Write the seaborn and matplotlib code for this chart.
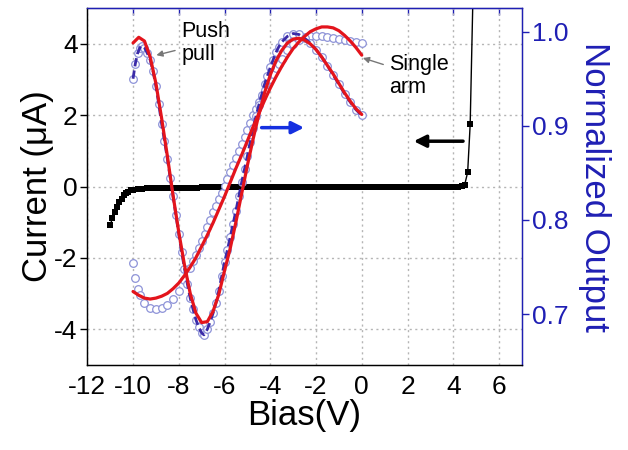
import numpy as np
import seaborn as sns
import matplotlib.pyplot as plt

# I-V curve (left axis, current in uA)
iv_bias = [-11.0, -10.9, -10.8, -10.7, -10.6, -10.5, -10.4, -10.3, -10.2, -10.1,
           -10.0, -9.8, -9.6, -9.4, -9.2,
           -9.0, -8.8, -8.6, -8.4, -8.2, -8.0, -7.8, -7.6, -7.4, -7.2,
           -7.0, -6.8, -6.6, -6.4, -6.2, -6.0, -5.8, -5.6, -5.4, -5.2,
           -5.0, -4.8, -4.6, -4.4, -4.2, -4.0, -3.8, -3.6, -3.4, -3.2,
           -3.0, -2.8, -2.6, -2.4, -2.2, -2.0, -1.8, -1.6, -1.4, -1.2,
           -1.0, -0.8, -0.6, -0.4, -0.2, 0.0, 0.2, 0.4, 0.6, 0.8,
           1.0, 1.2, 1.4, 1.6, 1.8, 2.0, 2.2, 2.4, 2.6, 2.8,
           3.0, 3.2, 3.4, 3.6, 3.8, 4.0, 4.2, 4.4, 4.5, 4.63, 4.74, 4.86]
iv_current = [-1.09, -0.88, -0.70, -0.56, -0.44, -0.34, -0.25, -0.19, -0.14, -0.11,
              -0.09, -0.07, -0.06, -0.05, -0.045,
              -0.04, -0.04, -0.04, -0.035, -0.035, -0.03, -0.03, -0.03, -0.03, -0.03,
              -0.025, -0.025, -0.025, -0.025, -0.025, -0.02, -0.02, -0.02, -0.02, -0.02,
              -0.02, -0.02, -0.02, -0.02, -0.02, -0.02, -0.015, -0.015, -0.015, -0.015,
              -0.015, -0.015, -0.015, -0.015, -0.01, -0.01, -0.01, -0.01, -0.01, -0.01,
              -0.01, -0.01, -0.01, -0.01, -0.01, -0.01, -0.005, -0.005, -0.005, -0.005,
              -0.005, -0.005, 0.0, 0.0, 0.0, 0.0, 0.0, 0.0, 0.0, 0.0,
              0.0, 0.0, 0.0, 0.0, 0.0, 0.0, 0.0, 0.01, 0.05, 0.40, 1.74, 5.30]

# push pull: measured normalized output
pp_bias = [-10.0, -9.9, -9.8, -9.7, -9.6, -9.5, -9.375, -9.25, -9.125, -9.0,
           -8.875, -8.75, -8.625, -8.5, -8.375, -8.25, -8.125, -8.0, -7.875, -7.75,
           -7.625, -7.5, -7.375, -7.25, -7.125, -7.0, -6.9, -6.75, -6.625, -6.5,
           -6.375, -6.25, -6.125, -6.0, -5.875, -5.75, -5.625, -5.5, -5.375, -5.25,
           -5.125, -5.0, -4.875, -4.75, -4.625, -4.5, -4.375, -4.25, -4.125, -4.0,
           -3.875, -3.75, -3.625, -3.5, -3.25, -3.0, -2.75, -2.5, -2.25, -2.0,
           -1.75, -1.5, -1.25, -1.0, -0.75, -0.5, -0.25, 0.0]
pp_meas = [0.950, 0.966, 0.977, 0.983, 0.985, 0.983, 0.977, 0.970, 0.958, 0.942,
           0.923, 0.902, 0.884, 0.865, 0.845, 0.825, 0.805, 0.785, 0.766, 0.748,
           0.732, 0.717, 0.705, 0.694, 0.686, 0.680, 0.678, 0.684, 0.692, 0.701,
           0.712, 0.725, 0.740, 0.755, 0.768, 0.782, 0.796, 0.810, 0.825, 0.840,
           0.854, 0.868, 0.883, 0.898, 0.910, 0.922, 0.933, 0.944, 0.953, 0.962,
           0.970, 0.978, 0.984, 0.989, 0.995, 0.998, 0.997, 0.993, 0.988, 0.981,
           0.973, 0.964, 0.954, 0.944, 0.934, 0.925, 0.917, 0.911]

# push pull: fit
fit_bias = [-10.0, -9.75, -9.5, -9.25, -9.0, -8.75, -8.5, -8.25, -8.0, -7.75,
            -7.5, -7.25, -7.0, -6.75, -6.5, -6.25, -6.0, -5.75, -5.5, -5.25,
            -5.0, -4.75, -4.5, -4.25, -4.0, -3.75, -3.5, -3.25, -3.0, -2.75,
            -2.5, -2.25, -2.0, -1.75, -1.5, -1.25, -1.0, -0.75, -0.5, -0.25, 0.0]
pp_fit = [0.988, 0.994, 0.990, 0.973, 0.945, 0.908, 0.868, 0.826, 0.787, 0.752,
          0.722, 0.701, 0.691, 0.692, 0.703, 0.721, 0.746, 0.770, 0.798, 0.828,
          0.858, 0.886, 0.912, 0.935, 0.954, 0.969, 0.980, 0.988, 0.992, 0.993,
          0.991, 0.987, 0.981, 0.973, 0.964, 0.955, 0.945, 0.935, 0.926, 0.918, 0.912]

# single arm: measured and fit
sa_bias = [-10.0, -9.9, -9.8, -9.7, -9.5, -9.25, -9.0, -8.75, -8.5, -8.25,
           -8.0, -7.75, -7.5, -7.375, -7.25, -7.125, -7.0, -6.875, -6.75, -6.625,
           -6.5, -6.375, -6.25, -6.125, -6.0, -5.875, -5.75, -5.625, -5.5, -5.375,
           -5.25, -5.125, -5.0, -4.875, -4.75, -4.625, -4.5, -4.375, -4.25, -4.125,
           -4.0, -3.875, -3.75, -3.625, -3.5, -3.25, -3.0, -2.75, -2.5, -2.25,
           -2.0, -1.75, -1.5, -1.25, -1.0, -0.75, -0.5, -0.25, 0.0]
sa_meas = [0.754, 0.738, 0.727, 0.720, 0.712, 0.707, 0.705, 0.706, 0.710, 0.716,
           0.725, 0.736, 0.749, 0.756, 0.763, 0.770, 0.778, 0.785, 0.793, 0.800,
           0.808, 0.815, 0.822, 0.829, 0.836, 0.843, 0.851, 0.858, 0.866, 0.873,
           0.881, 0.888, 0.896, 0.903, 0.911, 0.918, 0.925, 0.931, 0.938, 0.944,
           0.950, 0.955, 0.961, 0.966, 0.971, 0.980, 0.987, 0.991, 0.994, 0.995,
           0.995, 0.995, 0.994, 0.993, 0.992, 0.991, 0.990, 0.989, 0.988]
sa_fit = [0.724, 0.720, 0.717, 0.716, 0.717, 0.719, 0.722, 0.727, 0.733, 0.741,
          0.750, 0.760, 0.772, 0.784, 0.797, 0.811, 0.825, 0.840, 0.855, 0.869,
          0.884, 0.899, 0.913, 0.927, 0.940, 0.952, 0.963, 0.973, 0.982, 0.989,
          0.995, 1.000, 1.003, 1.005, 1.005, 1.004, 1.001, 0.996, 0.990, 0.983, 0.975]

sns.set_style('white')
plt.rcParams['font.family'] = ['Liberation Sans', 'DejaVu Sans']
plt.rcParams['axes.unicode_minus'] = False
plt.rcParams['text.color'] = 'black'
plt.rcParams['axes.labelcolor'] = 'black'

blue = '#1f1fb4'
circ = '#8e93d8'
red = '#e3141c'

fig, ax = plt.subplots(figsize=(6.28, 4.5), dpi=100)
fig.subplots_adjust(left=0.139, right=0.831, bottom=0.189, top=0.982)
ax2 = ax.twinx()

# current
sns.lineplot(x=iv_bias, y=iv_current, ax=ax, color='black', lw=1, marker='s',
             markersize=3.8, markeredgecolor='black', markeredgewidth=0,
             sort=False, estimator=None, zorder=3)

# normalized output
for xs, ys in [(sa_bias, sa_meas), (pp_bias, pp_meas)]:
    sns.lineplot(x=xs, y=ys, ax=ax2, linestyle='', marker='o', markersize=5.5,
                 markerfacecolor='white', markeredgecolor=circ, markeredgewidth=0.9,
                 sort=False, estimator=None, zorder=2)
sns.lineplot(x=pp_bias, y=pp_meas, ax=ax2, color='#3a2aa8', lw=2, linestyle=(0, (3, 1.5)),
             sort=False, estimator=None, zorder=3)
sns.lineplot(x=fit_bias, y=pp_fit, ax=ax2, color=red, lw=2.3, sort=False,
             estimator=None, zorder=4)
sns.lineplot(x=fit_bias, y=sa_fit, ax=ax2, color=red, lw=2.3, sort=False,
             estimator=None, zorder=4)

ax.set_xlim(-12, 7)
ax.set_ylim(-5, 5)
ax2.set_ylim(0.646, 1.025)
ax.set_xticks(np.arange(-12, 7, 2))
ax.set_yticks([-4, -2, 0, 2, 4])
ax2.set_yticks([0.7, 0.8, 0.9, 1.0])
ax2.set_yticklabels(['0.7', '0.8', '0.9', '1.0'])

ax.grid(True, color='#b5b5b5', linestyle=(0, (1.5, 2.5)), lw=1)
ax.set_axisbelow(True)

ax.tick_params(axis='both', direction='out', length=5, width=1, labelsize=19,
               colors='black', pad=2)
ax.tick_params(axis='y', right=False)
ax2.tick_params(axis='y', direction='out', length=5, width=1, labelsize=19,
                colors=blue, pad=2)
top = ax.secondary_xaxis('top')
top.set_xticks(np.arange(-10, 7, 2))
top.tick_params(direction='in', length=5, width=1, color=blue, labeltop=False)
top.spines['top'].set_color(blue)

for s in ['left', 'bottom']:
    ax2.spines[s].set_color('black')
ax2.spines['right'].set_color(blue)
ax2.spines['top'].set_color(blue)
for s in ax2.spines.values():
    s.set_linewidth(1)

ax.set_xlabel('Bias(V)', fontsize=25, labelpad=0, color='black')
ax.set_ylabel('Current (μA)', fontsize=25, labelpad=0, color='black')
ax2.set_ylabel('Normalized Output', fontsize=25, color=blue, rotation=-90, labelpad=31)

# direction arrows
ax.annotate('', xy=(-2.4, 1.65), xytext=(-4.5, 1.65),
            arrowprops=dict(arrowstyle='-|>', color='#1530e0', lw=2.5, mutation_scale=18))
ax.annotate('', xy=(2.15, 1.27), xytext=(4.55, 1.27),
            arrowprops=dict(arrowstyle='-|>', color='black', lw=2.5, mutation_scale=18))

# labels
ax2.annotate('Push\npull', xy=(-8.98, 0.975), xytext=(-7.9, 0.988), fontsize=15.5,
             va='center', ha='left', linespacing=1.1, color='black',
             arrowprops=dict(arrowstyle='-|>', color='#777777', lw=1, mutation_scale=9,
                             shrinkA=2, shrinkB=0))
ax2.annotate('Single\narm', xy=(0.05, 0.972), xytext=(1.2, 0.953), fontsize=15.5,
             va='center', ha='left', linespacing=1.1, color='black',
             arrowprops=dict(arrowstyle='-|>', color='#777777', lw=1, mutation_scale=9,
                             shrinkA=2, shrinkB=0))

plt.savefig('out.png', dpi=100)
